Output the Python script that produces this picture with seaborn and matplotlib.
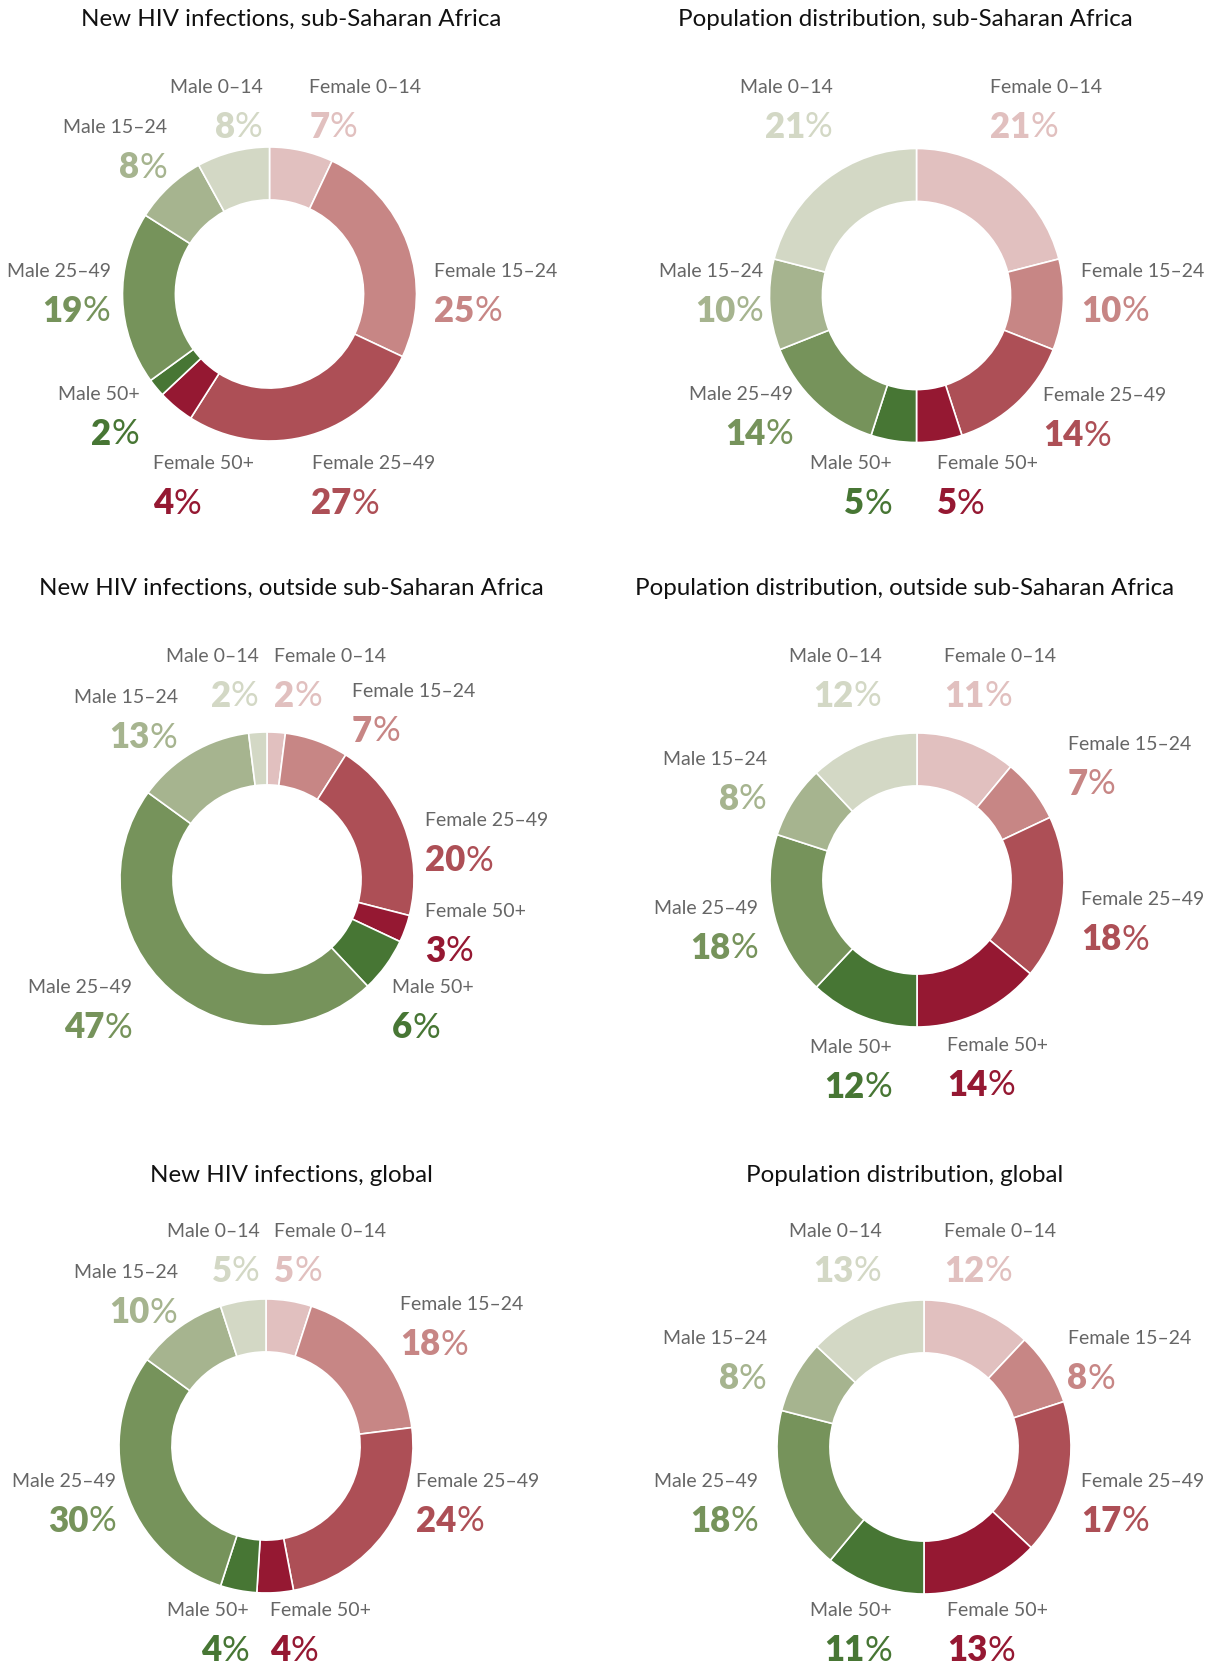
import matplotlib
matplotlib.use("Agg")
import matplotlib.pyplot as plt
import seaborn as sns

# ---------------- data ----------------
categories = ["Female 0–14", "Female 15–24", "Female 25–49", "Female 50+",
              "Male 50+", "Male 25–49", "Male 15–24", "Male 0–14"]

titles = ["New HIV infections, sub-Saharan Africa",
          "Population distribution, sub-Saharan Africa",
          "New HIV infections, outside sub-Saharan Africa",
          "Population distribution, outside sub-Saharan Africa",
          "New HIV infections, global",
          "Population distribution, global"]

hiv_ssa = [7, 25, 27, 4, 2, 19, 8, 8]
pop_ssa = [21, 10, 14, 5, 5, 14, 10, 21]
hiv_outside = [2, 7, 20, 3, 6, 47, 13, 2]
pop_outside = [11, 7, 18, 14, 12, 18, 8, 12]
hiv_global = [5, 18, 24, 4, 4, 30, 10, 5]
pop_global = [12, 8, 17, 13, 11, 18, 8, 13]

series = [hiv_ssa, pop_ssa, hiv_outside, pop_outside, hiv_global, pop_global]

colors = ["#e1c0bf", "#c78685", "#ad4f56", "#951832",
          "#477634", "#76935b", "#a6b48f", "#d3d8c5"]

# ---------------- layout (pixels, top-left origin) ----------------
W, H = 1211, 1667
R = 147
centers = [(269.5, 294), (916.5, 295.5), (267, 879), (917, 880), (266, 1446), (924, 1447)]
title_pos = [(291, 19), (905, 19), (291, 588), (905, 588), (291, 1175), (905, 1175)]

# label anchors per chart, in category order: (x, y, ha)
label_pos = [
    [(309.4, 87.2, "left"), (433.8, 271.1, "left"), (311.5, 463.6, "left"), (153.1, 463.6, "left"),
     (139.3, 394.4, "right"), (110.6, 271.1, "right"), (166.9, 127.6, "right"), (262.6, 87.2, "right")],
    [(989.8, 87.2, "left"), (1081.3, 271.1, "left"), (1043.0, 395.5, "left"), (936.7, 463.6, "left"),
     (892.0, 463.6, "right"), (793.1, 394.4, "right"), (763.4, 271.1, "right"), (832.5, 87.2, "right")],
    [(274.3, 656.0, "left"), (351.9, 691.1, "left"), (425.3, 820.8, "left"), (425.3, 911.2, "left"),
     (392.3, 987.7, "left"), (131.8, 987.7, "right"), (177.6, 697.5, "right"), (258.4, 656.0, "right")],
    [(944.1, 656.0, "left"), (1067.5, 744.2, "left"), (1081.3, 899.5, "left"), (947.3, 1045.1, "left"),
     (892.0, 1047.3, "right"), (758.1, 908.0, "right"), (766.6, 759.1, "right"), (881.4, 656.0, "right")],
    [(274.3, 1231.2, "left"), (399.8, 1304.5, "left"), (415.7, 1481.0, "left"), (270.1, 1610.7, "left"),
     (248.8, 1610.7, "right"), (115.9, 1481.0, "right"), (177.6, 1272.6, "right"), (259.4, 1231.2, "right")],
    [(944.1, 1231.2, "left"), (1067.5, 1338.6, "left"), (1081.3, 1481.0, "left"), (947.3, 1610.7, "left"),
     (892.0, 1610.7, "right"), (758.1, 1481.0, "right"), (766.6, 1338.6, "right"), (881.4, 1231.2, "right")],
]
PCT_DY = 40

sns.set_theme(style="white")
plt.rcParams["font.family"] = ["Lato", "DejaVu Sans"]

fig = plt.figure(figsize=(W / 100, H / 100), dpi=100)
fig.patch.set_facecolor("white")

pad = 1.04
for (cx, cy), vals in zip(centers, series):
    ax = fig.add_axes([(cx - pad * R) / W, 1 - (cy + pad * R) / H, 2 * pad * R / W, 2 * pad * R / H])
    ax.pie(vals, colors=colors, startangle=90, counterclock=False, radius=1,
           wedgeprops=dict(width=0.36, edgecolor="white", linewidth=1.2))
    ax.set_xlim(-pad, pad)
    ax.set_ylim(-pad, pad)
    ax.set_aspect("equal")
    ax.axis("off")

ov = fig.add_axes([0, 0, 1, 1])
ov.set_xlim(0, W)
ov.set_ylim(H, 0)
ov.axis("off")

LABEL_FS = 14
PCT_FS = 25
label_color = "#666666"

for k in range(6):
    tx, ty = title_pos[k]
    ov.text(tx, ty, titles[k], ha="center", va="center", fontsize=17.4, color="#111111")
    vals = series[k]
    for i, cat in enumerate(categories):
        x, y, ha = label_pos[k][i]
        ov.text(x, y, cat, ha=ha, va="center", fontsize=LABEL_FS, color=label_color,
                fontweight="normal")
        num = f"{vals[i]}"
        c = colors[i]
        yp = y + PCT_DY
        if ha == "left":
            t = ov.text(x, yp, num, ha="left", va="center", fontsize=PCT_FS, color=c,
                        fontweight="heavy")
            ov.annotate("%", xy=(1, 0.5), xycoords=t, ha="left", va="center",
                        fontsize=PCT_FS, color=c, fontweight="normal")
        else:
            t = ov.text(x, yp, "%", ha="right", va="center", fontsize=PCT_FS, color=c,
                        fontweight="normal")
            ov.annotate(num, xy=(0, 0.5), xycoords=t, ha="right", va="center",
                        fontsize=PCT_FS, color=c, fontweight="heavy")

fig.savefig("out.png", dpi=100, facecolor="white")
